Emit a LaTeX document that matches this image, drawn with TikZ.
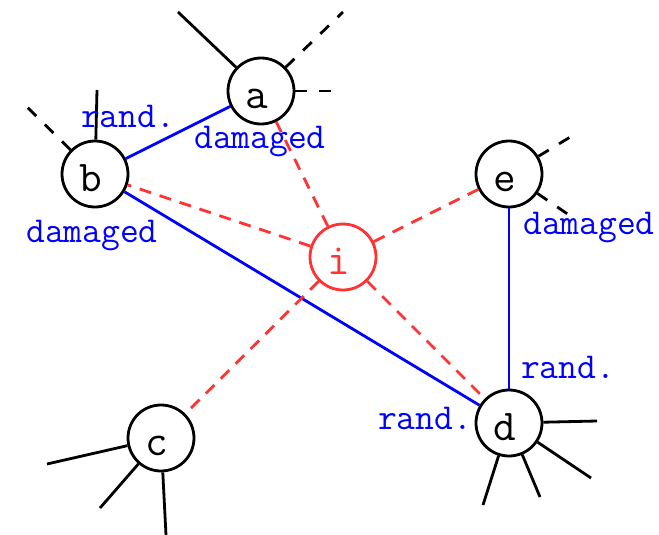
\documentclass[tikz,border=0pt]{standalone}
\usepackage{fontspec}
\definecolor{probered}{RGB}{255,51,51}
\begin{document}
\begin{tikzpicture}[x=1pt,y=-1pt,
  vertex/.style={circle,draw,line width=2.8pt,minimum size=66pt,inner sep=0pt,
    text height=34pt,text depth=0pt,font=\ttfamily\fontsize{44}{44}\selectfont},
  tag/.style={text=blue,inner sep=0pt,font=\ttfamily\fontsize{36.5}{36.5}\selectfont},
  stub/.style={line width=2.8pt},
  stubdash/.style={stub,dash pattern=on 12pt off 12pt},
  link/.style={blue,line width=2.8pt},
  probe/.style={probered,line width=2.8pt,dash pattern=on 12pt off 9pt}]
\useasboundingbox (0,0) rectangle (659,535);

% nodes
\node[vertex] (a) at (261,91) {\hspace*{-8pt}a};
\node[vertex] (b) at (95,174) {\hspace*{-8pt}b};
\node[vertex] (e) at (509,174) {\hspace*{-8pt}e};
\node[vertex,draw=probered,text=probered] (i) at (343,257) {\hspace*{-8pt}i};
\node[vertex] (c) at (161,438) {\hspace*{-8pt}c};
\node[vertex] (d) at (509,423) {\hspace*{-8pt}d};

% free ends of the outgoing stubs
\coordinate (a1) at (178,12);
\coordinate (a2) at (343,12);
\coordinate (a3) at (333,91);
\coordinate (b1) at (97,90);
\coordinate (b2) at (22,102);
\coordinate (e1) at (572,136);
\coordinate (e2) at (569,215);
\coordinate (d1) at (597,421);
\coordinate (d2) at (591,478);
\coordinate (d3) at (540,497);
\coordinate (d4) at (483,505);
\coordinate (c1) at (47,464);
\coordinate (c2) at (100,508);
\coordinate (c3) at (166,535);

% stubs
\draw[stub] (a) -- (a1);
\draw[stubdash] (a) -- (a2);
\draw[stubdash] (a) -- (a3);
\draw[stub] (b) -- (b1);
\draw[stubdash] (b) -- (b2);
\draw[stubdash] (e) -- (e1);
\draw[stubdash] (e) -- (e2);
\draw[stub] (d) -- (d1);
\draw[stub] (d) -- (d2);
\draw[stub] (d) -- (d3);
\draw[stub] (d) -- (d4);
\draw[stub] (c) -- (c1);
\draw[stub] (c) -- (c2);
\draw[stub] (c) -- (c3);

% links
\draw[link] (a) -- (b);
\draw[link] (b) -- (d);
\draw[link] (e) -- (d);

% probes from i
\draw[probe] (i) -- (a);
\draw[probe] (i) -- (b);
\draw[probe] (i) -- (e);
\draw[probe] (i) -- (d);
\draw[probe] (i) -- (c);

% link end labels
\node[tag] (lab) at (128,116) {rand.};
\node[tag] (laa) at (260,142) {damaged};
\node[tag] (lbd) at (92,236) {damaged};
\node[tag] (ldb) at (425,418) {rand.};
\node[tag] (led) at (589,228) {damaged};
\node[tag] (lde) at (568,367) {rand.};
\end{tikzpicture}
\end{document}
